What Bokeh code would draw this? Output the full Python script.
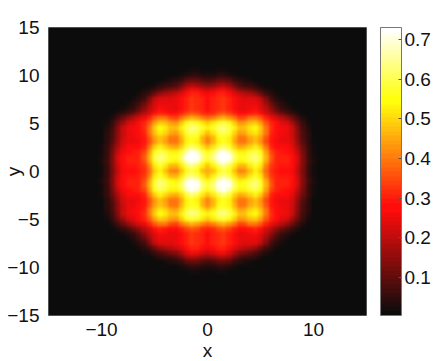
import numpy as np
from bokeh.plotting import figure
from bokeh.models import LinearColorMapper, ColorBar, FixedTicker, CustomJS
from bokeh.embed import file_html
from bokeh.resources import INLINE
from bokeh.document import Document

# Density, one quadrant: rows y = 0, .5, ... 11; columns x = 0, .5, ... 11
quadrant_rows = [
 [.45,.48,.55,.59,.55,.47,.41,.42,.48,.53,.49,.38,.32,.29,.28,.28,.26,.20,.12,.06,.02,.01,.01],
 [.48,.53,.60,.64,.60,.52,.46,.46,.52,.56,.52,.41,.33,.30,.29,.29,.27,.21,.13,.06,.02,.01,.01],
 [.54,.60,.70,.75,.69,.59,.53,.54,.59,.62,.57,.45,.35,.31,.30,.30,.28,.22,.14,.07,.03,.01,.01],
 [.59,.65,.75,.80,.73,.62,.57,.57,.61,.63,.59,.46,.36,.31,.30,.30,.27,.22,.14,.06,.02,.01,.01],
 [.55,.60,.69,.73,.67,.58,.53,.53,.58,.60,.55,.44,.34,.30,.29,.28,.26,.20,.12,.06,.02,.01,.01],
 [.47,.52,.59,.62,.58,.50,.45,.46,.50,.53,.49,.39,.31,.28,.27,.27,.24,.18,.11,.05,.02,.01,.01],
 [.41,.46,.53,.57,.53,.45,.39,.40,.44,.47,.43,.35,.29,.26,.25,.25,.22,.16,.09,.04,.01,.01,.01],
 [.42,.46,.54,.57,.53,.46,.40,.40,.45,.48,.44,.36,.29,.27,.25,.25,.21,.15,.08,.04,.01,.01,.01],
 [.48,.52,.59,.61,.58,.50,.44,.45,.50,.52,.48,.39,.31,.28,.26,.25,.21,.15,.08,.04,.01,.01,.01],
 [.53,.56,.62,.63,.60,.53,.47,.48,.52,.54,.49,.40,.32,.28,.26,.25,.21,.14,.07,.03,.01,.01,.01],
 [.49,.52,.57,.59,.55,.49,.43,.44,.48,.49,.44,.36,.30,.27,.24,.22,.17,.11,.06,.02,.01,.01,.01],
 [.38,.41,.44,.46,.43,.39,.34,.35,.39,.40,.36,.30,.25,.22,.19,.16,.11,.07,.03,.01,.01,.01,.01],
 [.30,.32,.35,.36,.34,.30,.27,.27,.29,.30,.27,.23,.19,.15,.11,.08,.05,.03,.01,.01,.01,.01,.01],
 [.28,.30,.32,.33,.31,.28,.25,.25,.26,.27,.24,.20,.15,.10,.06,.04,.02,.01,.01,.01,.01,.01,.01],
 [.28,.30,.32,.33,.31,.27,.25,.25,.25,.25,.23,.17,.11,.07,.04,.02,.01,.01,.01,.01,.01,.01,.01],
 [.28,.30,.32,.33,.31,.27,.25,.24,.24,.24,.20,.13,.07,.04,.02,.01,.01,.01,.01,.01,.01,.01,.01],
 [.26,.28,.30,.31,.28,.24,.21,.19,.18,.16,.11,.07,.04,.02,.01,.01,.01,.01,.01,.01,.01,.01,.01],
 [.20,.22,.25,.26,.23,.18,.14,.12,.10,.08,.05,.03,.02,.01,.01,.01,.01,.01,.01,.01,.01,.01,.01],
 [.13,.15,.17,.18,.16,.11,.08,.06,.05,.04,.02,.01,.01,.01,.01,.01,.01,.01,.01,.01,.01,.01,.01],
 [.07,.08,.10,.10,.09,.06,.04,.03,.02,.01,.01,.01,.01,.01,.01,.01,.01,.01,.01,.01,.01,.01,.01],
 [.03,.03,.04,.04,.03,.02,.01,.01,.01,.01,.01,.01,.01,.01,.01,.01,.01,.01,.01,.01,.01,.01,.01],
 [.01,.01,.02,.02,.01,.01,.01,.01,.01,.01,.01,.01,.01,.01,.01,.01,.01,.01,.01,.01,.01,.01,.01],
 [.01,.01,.01,.01,.01,.01,.01,.01,.01,.01,.01,.01,.01,.01,.01,.01,.01,.01,.01,.01,.01,.01,.01],
]
x_ticks = [-10, 0, 10]
y_ticks = [-15, -10, -5, 0, 5, 10, 15]
bar_ticks = [0.1, 0.2, 0.3, 0.4, 0.5, 0.6, 0.7]
value_low, value_high = 0.004, 0.73
x_range = (-15, 15)
y_range = (-15, 15)
step = 0.5
half_span = 20   # the drawn image reaches past the frame, where it is clipped

q = np.array(quadrant_rows)
top = np.hstack([q[:, :0:-1], q])
whole = np.vstack([top[:0:-1], top])
cells = int(2 * half_span / step) + 1
pad = (cells - whole.shape[0]) // 2
field = np.pad(whole, pad, constant_values=0.0)

# MATLAB "hot" with a grey floor
n = 64
t = (np.arange(n) + 1) / n
r = np.clip(t * 8 / 3, 0, 1)
g = np.clip((t - 3 / 8) * 8 / 3, 0, 1)
b = np.clip((t - 6 / 8) * 4, 0, 1)
palette = ["#%02x%02x%02x" % tuple(max(12, int(round(c * 255))) for c in rgb) for rgb in zip(r, g, b)]
mapper = LinearColorMapper(palette=palette, low=value_low, high=value_high)

FONT = "Liberation Sans"
p = figure(width=436, height=361, x_range=x_range, y_range=y_range,
           output_backend="svg", toolbar_location=None, tools="",
           x_axis_label="x", y_axis_label="y")
p.background_fill_color = "#0c0c0c"
p.image(image=[field], x=-half_span - step / 2, y=-half_span - step / 2,
        dw=2 * half_span + step, dh=2 * half_span + step, color_mapper=mapper)

p.grid.visible = False
p.xaxis.ticker = FixedTicker(ticks=x_ticks)
p.yaxis.ticker = FixedTicker(ticks=y_ticks)
for ax in (p.xaxis[0], p.yaxis[0]):
    ax.major_label_text_font = FONT
    ax.major_label_text_font_size = "19px"
    ax.major_label_text_color = "#111111"
    ax.axis_label_text_font = FONT
    ax.axis_label_text_font_size = "19px"
    ax.axis_label_text_font_style = "normal"
    ax.axis_label_text_color = "#111111"
    ax.axis_line_color = None
    ax.major_tick_line_color = None
    ax.minor_tick_line_color = None
p.xaxis.major_label_standoff = 1
p.yaxis.major_label_standoff = 3
p.xaxis.axis_label_standoff = 1
p.yaxis.axis_label_standoff = -20
p.yaxis.major_label_orientation = "horizontal"
p.outline_line_color = "#999999"

bar = ColorBar(color_mapper=mapper, ticker=FixedTicker(ticks=bar_ticks), width=21, height=288,
               location=(14, 0), padding=0, margin=0,
               major_label_text_font=FONT, major_label_text_font_size="19px",
               major_label_text_color="#111111", label_standoff=3,
               major_tick_line_color="#555555", major_tick_in=3, major_tick_out=0,
               bar_line_color="#777777", minor_tick_line_color=None, scale_alpha=1.0)
p.add_layout(bar, "right")

p.min_border_left = 48
p.min_border_right = 0
p.min_border_top = 27
p.min_border_bottom = 46
p.frame_width = 318
p.frame_height = 288

# The reference's map is shaded smoothly: soften the drawn image in the browser
smooth = CustomJS(code="""
function walk(root){
  root.querySelectorAll('*').forEach(function(el){
    if (el.tagName && el.tagName.toLowerCase()==='image' && el.getBBox().width > 100){
      el.style.filter='blur(1.7px)';
    }
    if (el.shadowRoot) walk(el.shadowRoot);
  });
}
[0,50,200,500,1000].forEach(function(ms){ setTimeout(function(){ walk(document); }, ms); });
""")
doc = Document()
doc.add_root(p)
doc.js_on_event("document_ready", smooth)
open("out.html", "w").write(file_html(doc, INLINE))
